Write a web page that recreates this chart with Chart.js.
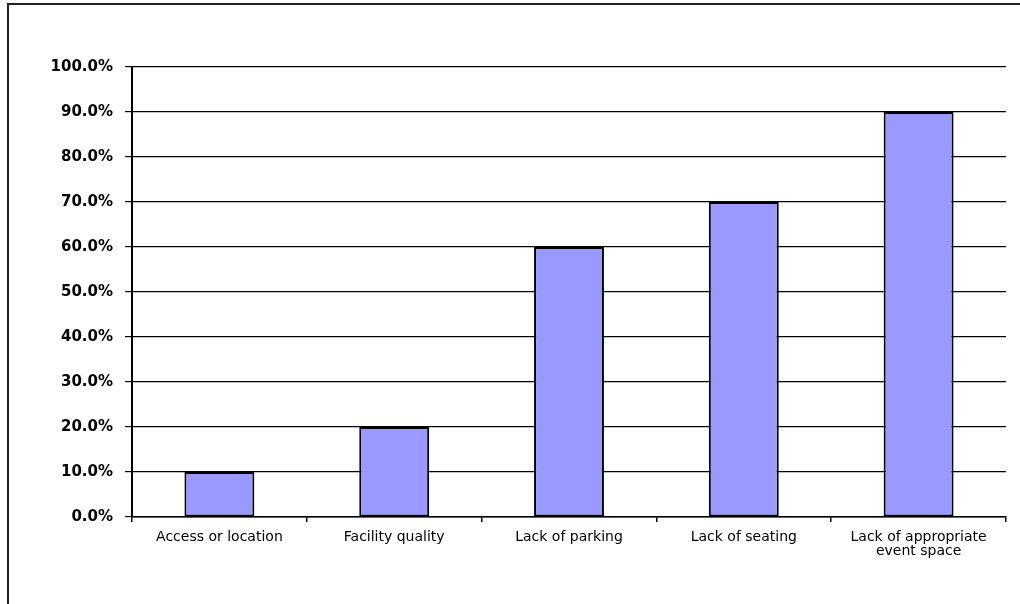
<!DOCTYPE html>
<html lang="en">

<head>
    <meta charset="UTF-8">
    <script src="https://cdn.jsdelivr.net/npm/chart.js"></script>
    <title>Facility issues</title>
    <style>
        body { margin: 0; background: #fff; }
        .wrap { position: relative; width: 1020px; height: 604px; overflow: hidden; }
        .frame { position: absolute; left: 7px; top: 3px; width: 1100px; height: 700px;
                 border-left: 2px solid #222; border-top: 2px solid #222; }
        canvas { position: absolute; left: 0; top: 0; }
    </style>
</head>

<body>
    <div class="wrap">
        <div class="frame"></div>
        <canvas id="chartIssues" width="1020" height="604"></canvas>
    </div>
</body>

</html>

<script>
    // dados
    const categories = [
        'Access or location',
        'Facility quality',
        'Lack of parking',
        'Lack of seating',
        ['Lack of appropriate', 'event space']
    ];
    const shareValues = [10, 20, 60, 70, 90]; // em %
    const yMin = 0;
    const yMax = 100;
    const yStep = 10;

    var ctx = document.getElementById('chartIssues').getContext('2d');
    var chartIssues = new Chart(ctx, {
        type: 'bar',
        data: {
            labels: categories,
            datasets: [{
                data: shareValues,
                backgroundColor: '#9999FF',
                borderColor: '#000000',
                borderWidth: 2,
                borderSkipped: false,
                categoryPercentage: 1,
                barPercentage: 0.4
            }]
        },
        options: {
            responsive: false,
            animation: false,
            layout: {
                padding: { top: 67, right: 14, bottom: 0, left: 0 }
            },
            scales: {
                x: {
                    afterFit: (scale) => { scale.height = 87; },
                    grid: {
                        offset: true,
                        drawOnChartArea: false,
                        drawTicks: true,
                        tickLength: 5,
                        lineWidth: 1.5,
                        color: '#000000'
                    },
                    border: { display: true, color: '#000000', width: 1.5 },
                    ticks: {
                        color: '#000000',
                        padding: 8,
                        maxRotation: 0,
                        autoSkip: false,
                        font: { family: 'DejaVu Sans', size: 14, lineHeight: 1 }
                    }
                },
                y: {
                    min: yMin,
                    max: yMax,
                    afterFit: (scale) => { scale.width = 132; },
                    grid: {
                        color: '#000000',
                        lineWidth: 1.2,
                        tickLength: 7
                    },
                    border: { display: true, color: '#000000', width: 2 },
                    ticks: {
                        stepSize: yStep,
                        color: '#000000',
                        padding: 12,
                        font: { family: 'DejaVu Sans', size: 15, weight: 'bold' },
                        callback: (value) => value.toFixed(1) + '%'
                    }
                }
            },
            plugins: {
                legend: { display: false },
                tooltip: { enabled: false }
            }
        }
    });
</script>
